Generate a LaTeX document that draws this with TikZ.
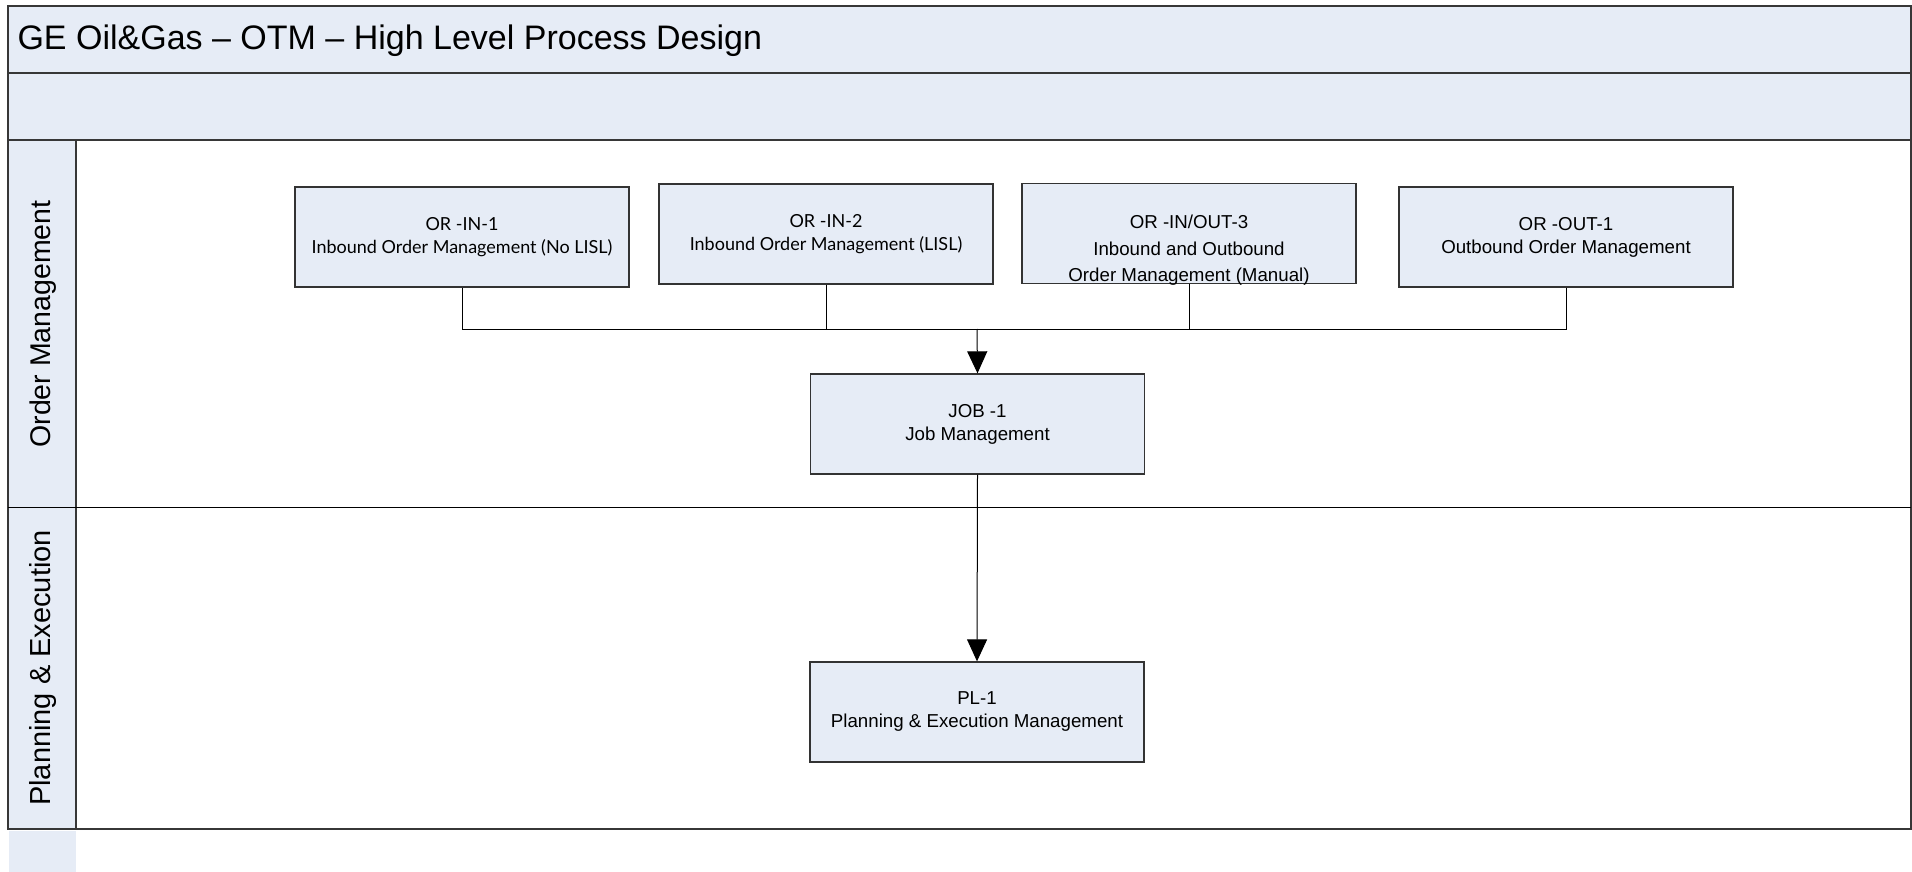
\documentclass[tikz,border=0pt]{standalone}
\usepackage{fontspec}
\setmainfont{Liberation Sans}
\newfontfamily\roundfont{Lato}
\usetikzlibrary{positioning}
\usetikzlibrary{arrows.meta}

\definecolor{laneblue}{RGB}{230,236,246}
\definecolor{framegrey}{RGB}{55,55,55}

\tikzset{
	procbox/.style = {draw = black!80, fill = laneblue, line width = 1.3pt, minimum width = 334pt, minimum height = 100pt, inner sep = 0pt, align = center, font = \fontsize{18.7}{23}\selectfont},
	boxtext/.style = {align = center, inner sep = 0pt, font = \fontsize{18.7}{26.5}\selectfont},
	lanelabel/.style = {rotate = 90, font = \fontsize{28.5}{34}\selectfont},
	flow/.style = {black, line width = 1pt},
	arrowflow/.style = {flow, -{Triangle[width = 20pt, length = 22pt]}}
}

\begin{document}
\begin{tikzpicture}[x = 1pt, y = -1pt]
					\useasboundingbox (0, 0) rectangle (1912, 872);
					% header bands
					\draw [fill = laneblue, draw = framegrey, line width = 2pt] (8, 6) rectangle (1911, 73);
					\draw [fill = laneblue, draw = framegrey, line width = 2pt] (8, 73) rectangle (1911, 140);
					\node [anchor = west, font = \fontsize{34}{40}\selectfont] (title) at (14, 41) {GE Oil\&Gas -- OTM -- High Level Process Design};
					% swimlanes
					\fill [laneblue] (9, 831) rectangle (76, 872);
					\draw [fill = laneblue, draw = framegrey, line width = 2pt] (8, 140) rectangle (76, 829);
					\draw [framegrey, line width = 2pt] (76, 140) rectangle (1911, 829);
					\draw [black, line width = 1pt] (8, 507) -- (1911, 507);
					\node [lanelabel] (lane1) at (43, 324) {Order Management};
					\node [lanelabel, font = \fontsize{29}{34}\selectfont] (lane2) at (43, 668) {Planning \& Execution};
					% process boxes
					\node [procbox, font = \roundfont\fontsize{18}{23}\selectfont] (or1) at (462, 237) {OR -IN-1\\Inbound Order Management (No LISL)};
					\node [procbox, font = \roundfont\fontsize{18}{23}\selectfont] (or2) at (826, 234) {OR -IN-2\\Inbound Order Management (LISL)};
					\node [procbox] (or3) at (1189, 233.5) {};
					\node [boxtext] (or3txt) at ([yshift = -17pt] or3.center) {OR -IN/OUT-3\\Inbound and Outbound\\Order Management (Manual)};
					\node [procbox] (or4) at (1566, 237) {OR -OUT-1\\Outbound Order Management};
					\node [procbox] (job) at (977.5, 424) {JOB -1\\Job Management};
					\node [procbox] (pl) at (977, 712) {PL-1\\Planning \& Execution Management};
					% connectors
					\coordinate (bus) at (977, 329);
					\draw [flow] (or1.south) |- (bus);
					\draw [flow] (or2.south) |- (bus);
					\draw [flow] (or3.south) |- (bus);
					\draw [flow] (or4.south) |- (bus);
					\draw [arrowflow] (bus) -- (job.north);
					\draw [arrowflow] (job.south) -- (pl.north);
				\end{tikzpicture}
\end{document}
